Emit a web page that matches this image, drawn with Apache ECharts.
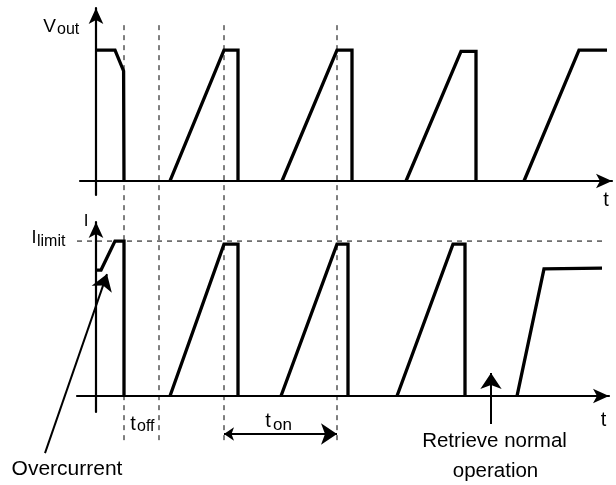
<!DOCTYPE html>
<html>
<head>
<meta charset="utf-8">
<script src="https://cdn.jsdelivr.net/npm/echarts@6/dist/echarts.min.js"></script>
<style>
html, body { margin: 0; padding: 0; background: #fff; }
#chart { width: 616px; height: 485px; }
</style>
</head>
<body>
<div id="chart"></div>
<script>
// waveforms as [t, level]; level 1 = nominal Vout / Ilimit
var vOutFault = [[0, 1], [4.75, 1], [6.9, 0.84], [7, 0.84], [7, 0]];
var vOutPulses = [
	[[18.5, 0], [32, 1], [35.5, 1], [35.5, 0]],
	[[46.5, 0], [60.25, 1], [64, 1], [64, 0]],
	[[77.5, 0], [91.25, 0.99], [95, 0.99], [95, 0]]
];
var vOutRecover = [[107, 0], [120.75, 1], [127.75, 1]];

var iFault = [[0, 0.813], [1.25, 0.813], [4.75, 1], [7, 1], [7, 0]];
var iPulses = [
	[[18.5, 0], [32, 0.98], [35.5, 0.98], [35.5, 0]],
	[[46.25, 0], [60.25, 0.98], [63, 0.98], [63, 0]],
	[[75.25, 0], [89.25, 0.98], [92.25, 0.98], [92.25, 0]]
];
var iRecover = [[105.25, 0], [112, 0.82], [126.5, 0.825]];

var iLimit = 1;
var markTimes = [7, 15.75, 32, 60.25];
var markSpan = [1.19, -2.0];   // dashed markers run across both panels (top-panel units)
var tOn = [32, 60.25];
var tOnLevel = -0.245;
var overcurrentArrow = [[-12.75, -0.368], [2.75, 0.787]];
var recoverArrow = [[98.75, -0.18], [98.75, 0.148]];

var myChart = echarts.init(document.getElementById("chart"));

function axis(grid, min, max) {
	return {
		gridIndex: grid, type: 'value', min: min, max: max,
		axisLine: { show: true, onZero: true, symbol: ['none', 'arrow'], symbolSize: [11, 16],
			lineStyle: { color: '#000', width: 2.2 } },
		axisTick: { show: false }, axisLabel: { show: false }, splitLine: { show: false }
	};
}
function wave(data, grid) {
	return {
		type: 'line', xAxisIndex: grid, yAxisIndex: grid, data: data,
		symbol: 'none', clip: false, z: 5, animation: false,
		lineStyle: { color: '#000', width: 3.3, join: 'miter' }
	};
}
function dashed(data, grid) {
	return {
		type: 'line', xAxisIndex: grid, yAxisIndex: grid, data: data,
		symbol: 'none', clip: false, z: 2, animation: false,
		lineStyle: { color: '#000', width: 1, type: [5, 5] }
	};
}

var series = [];
series.push(wave(vOutFault, 0));
vOutPulses.forEach(function(p) { series.push(wave(p, 0)); });
series.push(wave(vOutRecover, 0));
series.push(wave(iFault, 1));
iPulses.forEach(function(p) { series.push(wave(p, 1)); });
series.push(wave(iRecover, 1));

markTimes.forEach(function(t) {
	series.push(dashed([[t, markSpan[0]], [t, markSpan[1]]], 0));
});
series.push(dashed([[-4.75, iLimit], [127.25, iLimit]], 1));

series.push({
	type: 'lines', coordinateSystem: 'cartesian2d', xAxisIndex: 1, yAxisIndex: 1,
	clip: false, animation: false, z: 6,
	symbol: ['none', 'arrow'], symbolSize: [10, 16],
	lineStyle: { color: '#000', width: 2, opacity: 1, curveness: 0 },
	data: [{ coords: overcurrentArrow }, { coords: recoverArrow }]
});
series.push({
	type: 'lines', coordinateSystem: 'cartesian2d', xAxisIndex: 1, yAxisIndex: 1,
	clip: false, animation: false, z: 6,
	symbol: ['arrow', 'arrow'], symbolSize: [10, 16],
	lineStyle: { color: '#000', width: 2, opacity: 1, curveness: 0 },
	data: [{ coords: [[tOn[0], tOnLevel], [tOn[1], tOnLevel]] }]
});

var font = 'Liberation Sans, Arial, sans-serif';
function txt(x, y, s, size, align) {
	return { type: 'text', x: x, y: y, z: 10,
		style: { text: s, fontSize: size, fontFamily: font, fill: '#000',
			align: align || 'center', verticalAlign: 'middle' } };
}

option = {
	animation: false,
	backgroundColor: '#fff',
	grid: [
		{ left: 80, top: 8, width: 532, height: 187 },
		{ left: 77, top: 222, width: 532, height: 190 }
	],
	xAxis: [axis(0, -4, 129), axis(1, -4.75, 128.25)],
	yAxis: [axis(0, -0.107, 1.321), axis(1, -0.103, 1.123)],
	series: series,
	graphic: [
		txt(49.5, 26.5, 'V', 19),
		txt(57, 29.5, 'out', 16, 'left'),
		txt(606, 200, 't', 20),
		txt(86, 221, 'I', 17),
		txt(34, 238.5, 'I', 18),
		txt(37, 242, 'limit', 16, 'left'),
		txt(133, 424, 't', 20),
		txt(137, 427, 'off', 16, 'left'),
		txt(268, 421, 't', 20),
		txt(273, 425, 'on', 17, 'left'),
		txt(603.5, 420, 't', 20),
		txt(67, 469, 'Overcurrent', 21),
		txt(494.5, 441.5, 'Retrieve normal', 20.5),
		txt(495.5, 471.5, 'operation', 20.5)
	]
};
myChart.setOption(option);
</script>
</body>
</html>
